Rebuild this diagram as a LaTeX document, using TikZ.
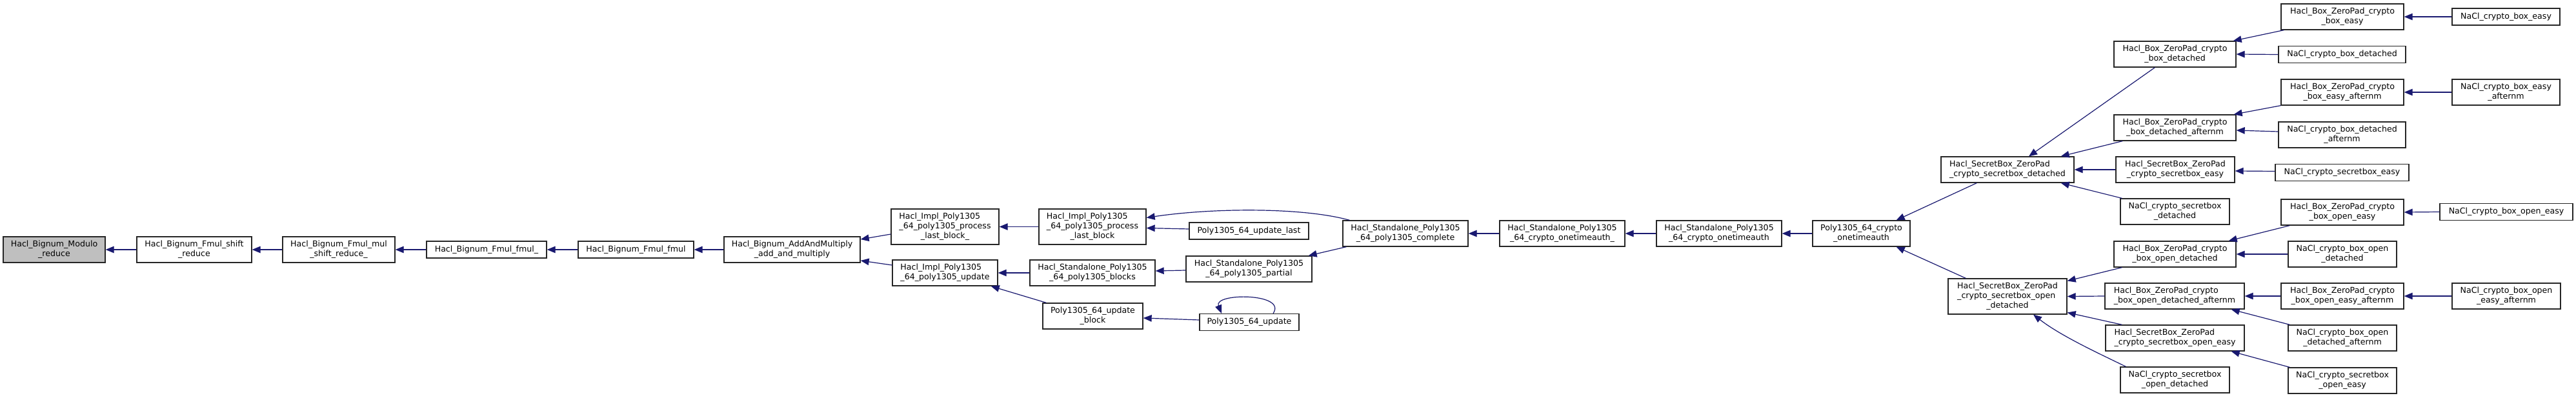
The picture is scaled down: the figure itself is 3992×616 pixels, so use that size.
\documentclass[tikz,border=0pt]{standalone}
\usepackage{fontspec}
\setmainfont{DejaVu Sans}
\usetikzlibrary{arrows.meta,calc}
\definecolor{edgec}{HTML}{191970}
\definecolor{rootfill}{HTML}{BFBFBF}
\newcommand\dxl[2]{\begin{tabular}{@{}l@{}}#1\\\multicolumn{1}{@{}c@{}}{#2}\end{tabular}}
\tikzset{
 fn/.style={rectangle, draw=black!85, line width=1.3pt, fill=white, inner sep=0pt, font=\fontsize{12.6}{14.7}\selectfont},
 one/.style={fn, minimum height=26pt},
 two/.style={fn, minimum height=40pt},
 three/.style={fn, minimum height=55pt},
 root/.style={fill=rootfill},
 call/.style={draw=edgec, line width=1.2pt, -{Triangle[length=13pt,width=10.5pt]}}
}
\begin{document}
\begin{tikzpicture}[x=1pt,y=-1pt]
\useasboundingbox[fill=white] (0,0) rectangle (3992,616);
% nodes
\node[two,root,minimum width=158pt] (mod) at (84,387) {\dxl{Hacl\_Bignum\_Modulo}{\_reduce}};
\node[two,minimum width=178pt] (shr) at (301,387) {\dxl{Hacl\_Bignum\_Fmul\_shift}{\_reduce}};
\node[two,minimum width=174pt] (msr) at (525,387) {\dxl{Hacl\_Bignum\_Fmul\_mul}{\_shift\_reduce\_}};
\node[one,minimum width=186pt] (fmu) at (754,387) {Hacl\_Bignum\_Fmul\_fmul\_};
\node[one,minimum width=179pt] (fm) at (985.5,387) {Hacl\_Bignum\_Fmul\_fmul};
\node[two,minimum width=211pt] (aam) at (1227.5,387) {\dxl{Hacl\_Bignum\_AddAndMultiply}{\_add\_and\_multiply}};
\node[three,minimum width=167pt] (plbu) at (1464.5,351.5) {\dxl{Hacl\_Impl\_Poly1305\\\_64\_poly1305\_process}{\_last\_block\_}};
\node[two,minimum width=163pt] (iup) at (1464.5,423) {\dxl{Hacl\_Impl\_Poly1305}{\_64\_poly1305\_update}};
\node[three,minimum width=166pt] (plb) at (1693,351.5) {\dxl{Hacl\_Impl\_Poly1305\\\_64\_poly1305\_process}{\_last\_block}};
\node[two,minimum width=194pt] (blk) at (1693,423) {\dxl{Hacl\_Standalone\_Poly1305}{\_64\_poly1305\_blocks}};
\node[two,minimum width=155pt] (ubl) at (1693.5,490) {\dxl{Poly1305\_64\_update}{\_block}};
\node[one,minimum width=185pt] (ulast) at (1935.5,358) {Poly1305\_64\_update\_last};
\node[two,minimum width=195pt] (part) at (1935.5,417) {\dxl{Hacl\_Standalone\_Poly1305}{\_64\_poly1305\_partial}};
\node[one,minimum width=154pt] (upd) at (1936,499.5) {Poly1305\_64\_update};
\node[two,minimum width=194pt] (cmp) at (2178,362) {\dxl{Hacl\_Standalone\_Poly1305}{\_64\_poly1305\_complete}};
\node[two,minimum width=194pt] (otau) at (2421,362) {\dxl{Hacl\_Standalone\_Poly1305}{\_64\_crypto\_onetimeauth\_}};
\node[two,minimum width=194pt] (sota) at (2664,362) {\dxl{Hacl\_Standalone\_Poly1305}{\_64\_crypto\_onetimeauth}};
\node[two,minimum width=151pt] (pota) at (2884.5,362) {\dxl{Poly1305\_64\_crypto}{\_onetimeauth}};
\node[two,minimum width=206pt] (sbd) at (3111,263) {\dxl{Hacl\_SecretBox\_ZeroPad}{\_crypto\_secretbox\_detached}};
\node[three,minimum width=184pt] (sbod) at (3111,459.5) {\dxl{Hacl\_SecretBox\_ZeroPad\\\_crypto\_secretbox\_open}{\_detached}};
\node[two,minimum width=189pt] (bd) at (3370.5,84) {\dxl{Hacl\_Box\_ZeroPad\_crypto}{\_box\_detached}};
\node[two,minimum width=189pt] (bda) at (3370.5,198) {\dxl{Hacl\_Box\_ZeroPad\_crypto}{\_box\_detached\_afternm}};
\node[two,minimum width=184pt] (sbe) at (3371,263) {\dxl{Hacl\_SecretBox\_ZeroPad}{\_crypto\_secretbox\_easy}};
\node[two,minimum width=169pt] (nsbd) at (3370.5,328) {\dxl{NaCl\_crypto\_secretbox}{\_detached}};
\node[two,minimum width=189pt] (bod) at (3370.5,394) {\dxl{Hacl\_Box\_ZeroPad\_crypto}{\_box\_open\_detached}};
\node[two,minimum width=216pt] (boda) at (3370,459) {\dxl{Hacl\_Box\_ZeroPad\_crypto}{\_box\_open\_detached\_afternm}};
\node[two,minimum width=215pt] (sboe) at (3370.5,524) {\dxl{Hacl\_SecretBox\_ZeroPad}{\_crypto\_secretbox\_open\_easy}};
\node[two,minimum width=169pt] (nsbod) at (3370.5,589) {\dxl{NaCl\_crypto\_secretbox}{\_open\_detached}};
\node[two,minimum width=190pt] (be) at (3630,26) {\dxl{Hacl\_Box\_ZeroPad\_crypto}{\_box\_easy}};
\node[one,minimum width=197pt] (nbd) at (3629.5,84.5) {NaCl\_crypto\_box\_detached};
\node[two,minimum width=190pt] (bea) at (3630,143) {\dxl{Hacl\_Box\_ZeroPad\_crypto}{\_box\_easy\_afternm}};
\node[two,minimum width=197pt] (nbda) at (3629.5,209) {\dxl{NaCl\_crypto\_box\_detached}{\_afternm}};
\node[one,minimum width=207pt] (nsbe) at (3629.5,267.5) {NaCl\_crypto\_secretbox\_easy};
\node[two,minimum width=190pt] (boe) at (3630,329) {\dxl{Hacl\_Box\_ZeroPad\_crypto}{\_box\_open\_easy}};
\node[two,minimum width=168pt] (nbod) at (3630,394) {\dxl{NaCl\_crypto\_box\_open}{\_detached}};
\node[two,minimum width=190pt] (boea) at (3630,459) {\dxl{Hacl\_Box\_ZeroPad\_crypto}{\_box\_open\_easy\_afternm}};
\node[two,minimum width=168pt] (nboda) at (3630,524) {\dxl{NaCl\_crypto\_box\_open}{\_detached\_afternm}};
\node[two,minimum width=168pt] (nsboe) at (3630,590) {\dxl{NaCl\_crypto\_secretbox}{\_open\_easy}};
\node[one,minimum width=167pt] (nbe) at (3883.5,26) {NaCl\_crypto\_box\_easy};
\node[two,minimum width=167pt] (nbea) at (3883.5,143) {\dxl{NaCl\_crypto\_box\_easy}{\_afternm}};
\node[one,minimum width=206pt] (nboe) at (3884,328.5) {NaCl\_crypto\_box\_open\_easy};
\node[two,minimum width=168pt] (nboea) at (3884,459) {\dxl{NaCl\_crypto\_box\_open}{\_easy\_afternm}};
% edges
\draw[call] (shr.west) -- (mod.east);
\draw[call] (msr.west) -- (shr.east);
\draw[call] (fmu.west) -- (msr.east);
\draw[call] (fm.west) -- (fmu.east);
\draw[call] (aam.west) -- (fm.east);
\draw[call] ($(plbu.west)+(0,11.5)$) -- ($(aam.east)+(0,-16)$);
\draw[call] ($(iup.west)+(0,-12)$) -- ($(aam.east)+(0,17)$);
\draw[call] (plb.west) -- (plbu.east);
\draw[call] (blk.west) -- (iup.east);
\draw[call] ($(ubl.north west)+(6,0)$) -- ($(iup.south east)+(-11,0)$);
\draw[call] ($(cmp.north west)+(11,0)$) .. controls +(-72,-20) and +(104,-15.5) .. ($(plb.east)+(0,-14)$);
\draw[call] ($(ulast.west)+(0,-3)$) -- ($(plb.east)+(0,2)$);
\draw[call] ($(part.west)+(0,2)$) -- ($(blk.east)+(0,-3)$);
\draw[call] ($(cmp.south west)+(6,0)$) -- ($(part.north east)+(-6,0)$);
\draw[call] ($(upd.west)+(0,-3.5)$) -- ($(ubl.east)+(0,3)$);
\draw[call] ($(upd.north)+(37,0)$) .. controls +(22,-32) and +(-13,-32) .. ($(upd.north)+(-43,0)$);
\draw[call] (otau.west) -- (cmp.east);
\draw[call] (sota.west) -- (otau.east);
\draw[call] (pota.west) -- (sota.east);
\draw[call] ($(sbd.south west)+(56,0)$) -- ($(pota.north east)+(-22,0)$);
\draw[call] ($(sbod.north west)+(28,0)$) -- ($(pota.south east)+(-22,0)$);
\draw[call] ($(bd.south west)+(64,0)$) -- ($(sbd.north)+(33,0)$);
\draw[call] ($(bda.south west)+(14,0)$) -- ($(sbd.north east)+(-21,0)$);
\draw[call] (sbe.west) -- (sbd.east);
\draw[call] ($(nsbd.north west)+(3,0)$) -- ($(sbd.south east)+(-21,0)$);
\draw[call] ($(bod.south west)+(13,0)$) -- ($(sbod.east)+(0,-24)$);
\draw[call] (boda.west) -- (sbod.east);
\draw[call] ($(sboe.north west)+(26,0)$) -- ($(sbod.east)+(0,25)$);
\draw[call] ($(nsbod.north west)+(9,0)$) .. controls +(-30,-15) and +(45,35) .. ($(sbod.south)+(40,0)$);
\draw[call] ($(be.south west)+(5,0)$) -- ($(bd.north east)+(-5,0)$);
\draw[call] (nbd.west) -- (bd.east);
\draw[call] (nbe.west) -- (be.east);
\draw[call] (bea.south west) -- ($(bda.north east)+(-4,0)$);
\draw[call] ($(nbda.west)+(0,-5)$) -- ($(bda.east)+(0,4)$);
\draw[call] (nbea.west) -- (bea.east);
\draw[call] ($(nsbe.west)+(0,-2)$) -- ($(sbe.east)+(0,2)$);
\draw[call] ($(boe.south west)+(14,0)$) -- ($(bod.north east)+(-12,0)$);
\draw[call] (nbod.west) -- (bod.east);
\draw[call] (nboe.west) -- (boe.east);
\draw[call] (boea.west) -- (boda.east);
\draw[call] (nboea.west) -- (boea.east);
\draw[call] ($(nboda.north west)+(3,0)$) -- ($(boda.south east)+(-21,0)$);
\draw[call] ($(nsboe.north west)+(3,0)$) -- ($(sboe.south east)+(-21,0)$);
\end{tikzpicture}
\end{document}
